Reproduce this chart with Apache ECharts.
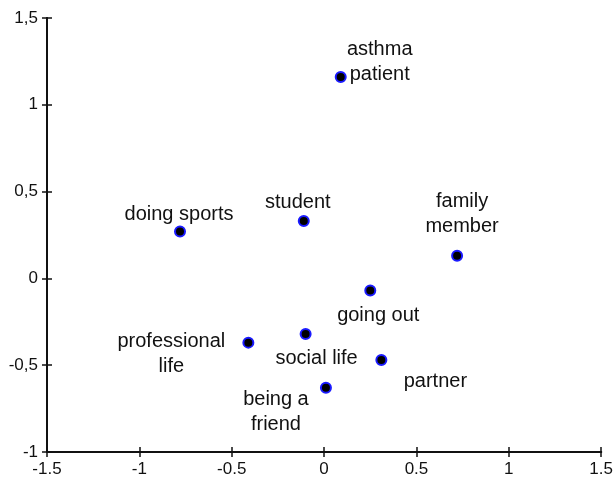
<!DOCTYPE html>
<html>
<head>
<meta charset="utf-8">
<script src="https://cdn.jsdelivr.net/npm/echarts@6/dist/echarts.min.js"></script>
<style>
html,body{margin:0;padding:0;background:#fff;}
#c{width:616px;height:478px;}
</style>
</head>
<body>
<div id="c"></div>
<script>
// ---- data ----
var names = ["asthma\npatient", "student", "doing sports", "family\nmember", "going out", "professional\nlife", "social life", "partner", "being a\nfriend"];
var xValues = [0.09, -0.11, -0.78, 0.72, 0.25, -0.41, -0.10, 0.31, 0.01];
var yValues = [1.16, 0.33, 0.27, 0.13, -0.07, -0.37, -0.32, -0.47, -0.63];
var xTicks = [-1.5, -1, -0.5, 0, 0.5, 1, 1.5];
var yTicks = [-1, -0.5, 0, 0.5, 1, 1.5];

// label offsets (style only), [dx, dy] from point centre
var labelOffsets = [[39, -15], [-6, -19], [-1, -17], [5, -42], [8, 25], [-77, 11], [11, 25], [54, 21], [-50, 24]];

var FONT = "'Liberation Sans', Arial, sans-serif";
var chart = echarts.init(document.getElementById('c'), null, {renderer: 'canvas'});

var points = names.map(function (n, i) {
  return {
    name: n,
    value: [xValues[i], yValues[i]],
    label: { offset: labelOffsets[i] }
  };
});

function axisBase(min, max, interval, fmt, showLabel, inside, pos) {
  return {
    type: 'value', min: min, max: max, interval: interval,
    position: pos, offset: 0,
    splitLine: { show: false },
    axisLine: { show: true, onZero: false, lineStyle: { color: '#111', width: 2 } },
    axisTick: { show: true, inside: inside, length: 5, lineStyle: { color: '#111', width: 1.5 } },
    axisLabel: { show: showLabel, formatter: fmt, color: '#111', fontSize: 17, fontFamily: FONT, margin: 9 }
  };
}

var xFmt = function (v) { return String(v); };
var yFmt = function (v) { return String(v).replace('.', ','); };
var xMin = xTicks[0], xMax = xTicks[xTicks.length - 1];
var yMin = yTicks[0], yMax = yTicks[yTicks.length - 1];

chart.setOption({
  animation: false,
  backgroundColor: '#fff',
  grid: { left: 47, right: 12, top: 18, bottom: 25 },
  xAxis: [
    axisBase(xMin, xMax, 0.5, xFmt, true, false, 'bottom'),
    axisBase(xMin, xMax, 0.5, xFmt, false, true, 'bottom')
  ],
  yAxis: [
    axisBase(yMin, yMax, 0.5, yFmt, true, false, 'left'),
    axisBase(yMin, yMax, 0.5, yFmt, false, true, 'left')
  ],
  series: [{
    type: 'scatter',
    xAxisIndex: 0, yAxisIndex: 0,
    symbol: 'circle',
    symbolSize: 10,
    itemStyle: { color: '#000', borderColor: '#1a1aff', borderWidth: 2, opacity: 1 },
    label: {
      show: true,
      position: 'inside',
      formatter: function (p) { return p.name; },
      color: '#111',
      fontSize: 20,
      fontFamily: FONT,
      lineHeight: 25,
      align: 'center',
      verticalAlign: 'middle'
    },
    emphasis: { disabled: true },
    data: points
  }, {
    type: 'scatter',
    xAxisIndex: 1, yAxisIndex: 1,
    silent: true,
    data: []
  }]
});
</script>
</body>
</html>
